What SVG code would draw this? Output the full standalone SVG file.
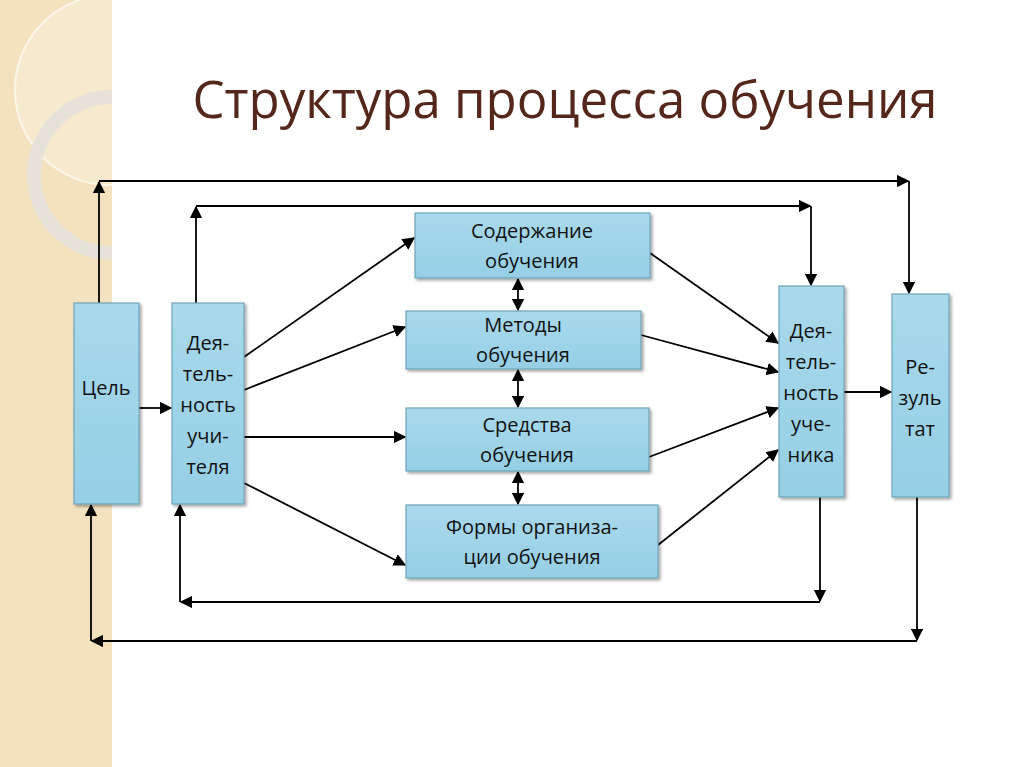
<svg xmlns="http://www.w3.org/2000/svg" width="1024" height="767" viewBox="0 0 1024 767">
<defs>
<marker id="a" viewBox="0 0 10 10" refX="9" refY="5" markerWidth="7" markerHeight="7" orient="auto-start-reverse"><path d="M0,0L10,5L0,10z" fill="#000"/></marker>
<linearGradient id="g" x1="0" y1="0" x2="0" y2="1"><stop offset="0" stop-color="#a9d9ec"/><stop offset="1" stop-color="#95cfe6"/></linearGradient>
<filter id="s" x="-10%" y="-10%" width="130%" height="130%"><feDropShadow dx="2" dy="2" stdDeviation="1.5" flood-opacity="0.35"/></filter>
<clipPath id="cp"><rect width="112" height="767"/></clipPath>
</defs>
<style>
.b{fill:url(#g);stroke:#6fa3b8;stroke-width:1.2;filter:url(#s)}
.t{font-family:"Open Sans","Noto Sans",sans-serif;font-size:20px;fill:#111;text-anchor:middle}
.c line,.c path{stroke:#000;stroke-width:1.8;fill:none;marker-end:url(#a)}
</style>
<rect width="1024" height="767" fill="#fff"/>
<rect width="112" height="767" fill="#f3e2bd"/>
<g clip-path="url(#cp)">
<circle cx="110" cy="90" r="95" fill="#fff" fill-opacity="0.25" stroke="#fbf6ea" stroke-width="2"/>
<circle cx="112" cy="175" r="78" fill="none" stroke="#e6e2da" stroke-width="14"/>
</g>
<text x="565" y="118" font-family="Open Sans, Noto Sans, sans-serif" font-size="51" fill="#55261a" text-anchor="middle">Структура процесса обучения</text>
<g class="c">
<line x1="99" y1="303" x2="99" y2="182"/><line x1="99" y1="181" x2="908" y2="181"/><line x1="909" y1="181" x2="909" y2="293"/>
<line x1="196" y1="303" x2="196" y2="207"/><line x1="196" y1="206" x2="810" y2="206"/><line x1="811" y1="206" x2="811" y2="285"/>
<line x1="820" y1="497" x2="820" y2="601"/><line x1="820" y1="602" x2="181" y2="602"/><line x1="180" y1="602" x2="180" y2="505"/>
<line x1="917" y1="497" x2="917" y2="640"/><line x1="917" y1="641" x2="92" y2="641"/><line x1="91" y1="641" x2="91" y2="505"/>
<line x1="139" y1="408" x2="171" y2="408"/><line x1="844" y1="392" x2="891" y2="392"/>
<line x1="244" y1="357" x2="414" y2="238"/><line x1="244" y1="390" x2="405" y2="327"/><line x1="244" y1="437" x2="405" y2="437"/><line x1="244" y1="483" x2="405" y2="565"/>
<line x1="650" y1="253" x2="778" y2="343"/><line x1="641" y1="335" x2="778" y2="372"/><line x1="649" y1="457" x2="778" y2="408"/><line x1="658" y1="545" x2="778" y2="450"/>
<line x1="518" y1="279" x2="518" y2="310" marker-start="url(#a)"/><line x1="518" y1="370" x2="518" y2="407" marker-start="url(#a)"/><line x1="518" y1="472" x2="518" y2="504" marker-start="url(#a)"/>
</g>
<g id="n1"><rect class="b" x="74" y="303" width="65" height="201"/><text class="t" x="106" y="395">Цель</text></g>
<g id="n2"><rect class="b" x="172" y="303" width="72" height="201"/><text class="t" x="208" y="350">Дея-</text><text class="t" x="208" y="381">тель-</text><text class="t" x="208" y="412">ность</text><text class="t" x="208" y="443">учи-</text><text class="t" x="208" y="474">теля</text></g>
<g id="n3"><rect class="b" x="415" y="213" width="235" height="65"/><text class="t" x="532" y="238">Содержание</text><text class="t" x="532" y="268">обучения</text></g>
<g id="n4"><rect class="b" x="406" y="311" width="235" height="58"/><text class="t" x="523" y="332">Методы</text><text class="t" x="523" y="362">обучения</text></g>
<g id="n5"><rect class="b" x="406" y="408" width="243" height="63"/><text class="t" x="527" y="432">Средства</text><text class="t" x="527" y="462">обучения</text></g>
<g id="n6"><rect class="b" x="406" y="505" width="252" height="73"/><text class="t" x="532" y="534">Формы организа-</text><text class="t" x="532" y="564">ции обучения</text></g>
<g id="n7"><rect class="b" x="779" y="286" width="65" height="211"/><text class="t" x="811" y="338">Дея-</text><text class="t" x="811" y="369">тель-</text><text class="t" x="811" y="400">ность</text><text class="t" x="811" y="431">уче-</text><text class="t" x="811" y="462">ника</text></g>
<g id="n8"><rect class="b" x="892" y="294" width="57" height="203"/><text class="t" x="920" y="374">Ре-</text><text class="t" x="920" y="405">зуль</text><text class="t" x="920" y="436">тат</text></g>
</svg>
